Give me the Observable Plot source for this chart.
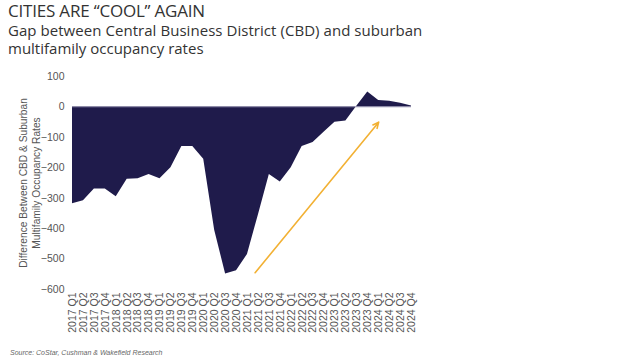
<!DOCTYPE html>
<html>
<head>
<meta charset="utf-8">
<script src="https://cdn.jsdelivr.net/npm/d3@7"></script>
<script src="https://cdn.jsdelivr.net/npm/@observablehq/plot@0.6"></script>
<style>
  html, body { margin: 0; padding: 0; background: #fff; }
  body { width: 641px; height: 360px; position: relative; overflow: hidden; font-family: "Open Sans", sans-serif; }
  #title { position: absolute; left: 8px; top: 0px; font-size: 17px; line-height: 22px; height: 22px; color: #333; letter-spacing: -0.2px; white-space: nowrap; }
  .sub { position: absolute; left: 8px; font-size: 15px; line-height: 17px; height: 17px; color: #333; white-space: nowrap; }
  #sub1 { top: 22px; letter-spacing: 0.05px; }
  #sub2 { top: 40px; }
  #chart { position: absolute; left: 0; top: 62px; }
  #source { position: absolute; left: 10px; top: 348px; font-size: 7px; line-height: 10px; color: #666; font-style: italic; font-family: "Liberation Sans", Arial, sans-serif; }
</style>
</head>
<body>
<div id="title">CITIES ARE “COOL” AGAIN</div>
<div class="sub" id="sub1">Gap between Central Business District (CBD) and suburban</div>
<div class="sub" id="sub2">multifamily occupancy rates</div>
<div id="chart"></div>
<div id="source">Source: CoStar, Cushman &amp; Wakefield Research</div>
<script>
const quarters = [
  "2017 Q1","2017 Q2","2017 Q3","2017 Q4",
  "2018 Q1","2018 Q2","2018 Q3","2018 Q4",
  "2019 Q1","2019 Q2","2019 Q3","2019 Q4",
  "2020 Q1","2020 Q2","2020 Q3","2020 Q4",
  "2021 Q1","2021 Q2","2021 Q3","2021 Q4",
  "2022 Q1","2022 Q2","2022 Q3","2022 Q4",
  "2023 Q1","2023 Q2","2023 Q3","2023 Q4",
  "2024 Q1","2024 Q2","2024 Q3","2024 Q4"
];
const gap = [
  -318, -308, -270, -270,
  -295, -238, -236, -222,
  -236, -200, -130, -130,
  -172, -405, -549, -538,
  -485, -355, -222, -247,
  -200, -130, -117, -83,
  -50, -46, 2, 49,
  21, 19, 12, 3
];
const yTicks = [100, 0, -100, -200, -300, -400, -500, -600];
const yLabel = "Difference Between CBD & Suburban\nMultifamily Occupancy Rates";
// trend arrow annotation (x as quarter index, y in chart units)
const arrowFrom = {i: 16.7, v: -545};
const arrowTo = {i: 28.0, v: -50};

const data = quarters.map((q, i) => ({i, q, v: gap[i]}));

const chart = Plot.plot({
  width: 641,
  height: 280,
  marginLeft: 72,
  marginRight: 230,
  marginTop: 14,
  marginBottom: 53,
  style: {fontFamily: "Liberation Sans, Arial, sans-serif", color: "#555", background: "transparent"},
  x: {type: "linear", domain: [0, quarters.length - 1]},
  y: {domain: [-600, 100]},
  marks: [
    Plot.areaY(data, {x: "i", y: "v", fill: "#1f1b4b"}),
    Plot.ruleY([0], {stroke: "#8f8cb0", strokeWidth: 0.6, x1: 0, x2: quarters.length - 1}),
    Plot.arrow([{x1: arrowFrom.i, y1: arrowFrom.v, x2: arrowTo.i, y2: arrowTo.v}], {
      x1: "x1", y1: "y1", x2: "x2", y2: "y2",
      stroke: "#f2b134", strokeWidth: 1.6, headLength: 6, headAngle: 50
    }),
    Plot.axisY({ticks: yTicks, tickSize: 0, tickPadding: 8, fontSize: 10.5, fill: "#555", label: null}),
    Plot.axisX({ticks: d3.range(quarters.length), tickFormat: i => quarters[i], tickRotate: -90, tickSize: 0, tickPadding: 3, fontSize: 10.5, fill: "#555", label: null}),
    Plot.text([yLabel], {frameAnchor: "left", dx: -43, rotate: -90, fontSize: 10.2, lineHeight: 1.3, fill: "#555", textAnchor: "middle"})
  ]
});
document.getElementById("chart").appendChild(chart);
</script>
</body>
</html>
